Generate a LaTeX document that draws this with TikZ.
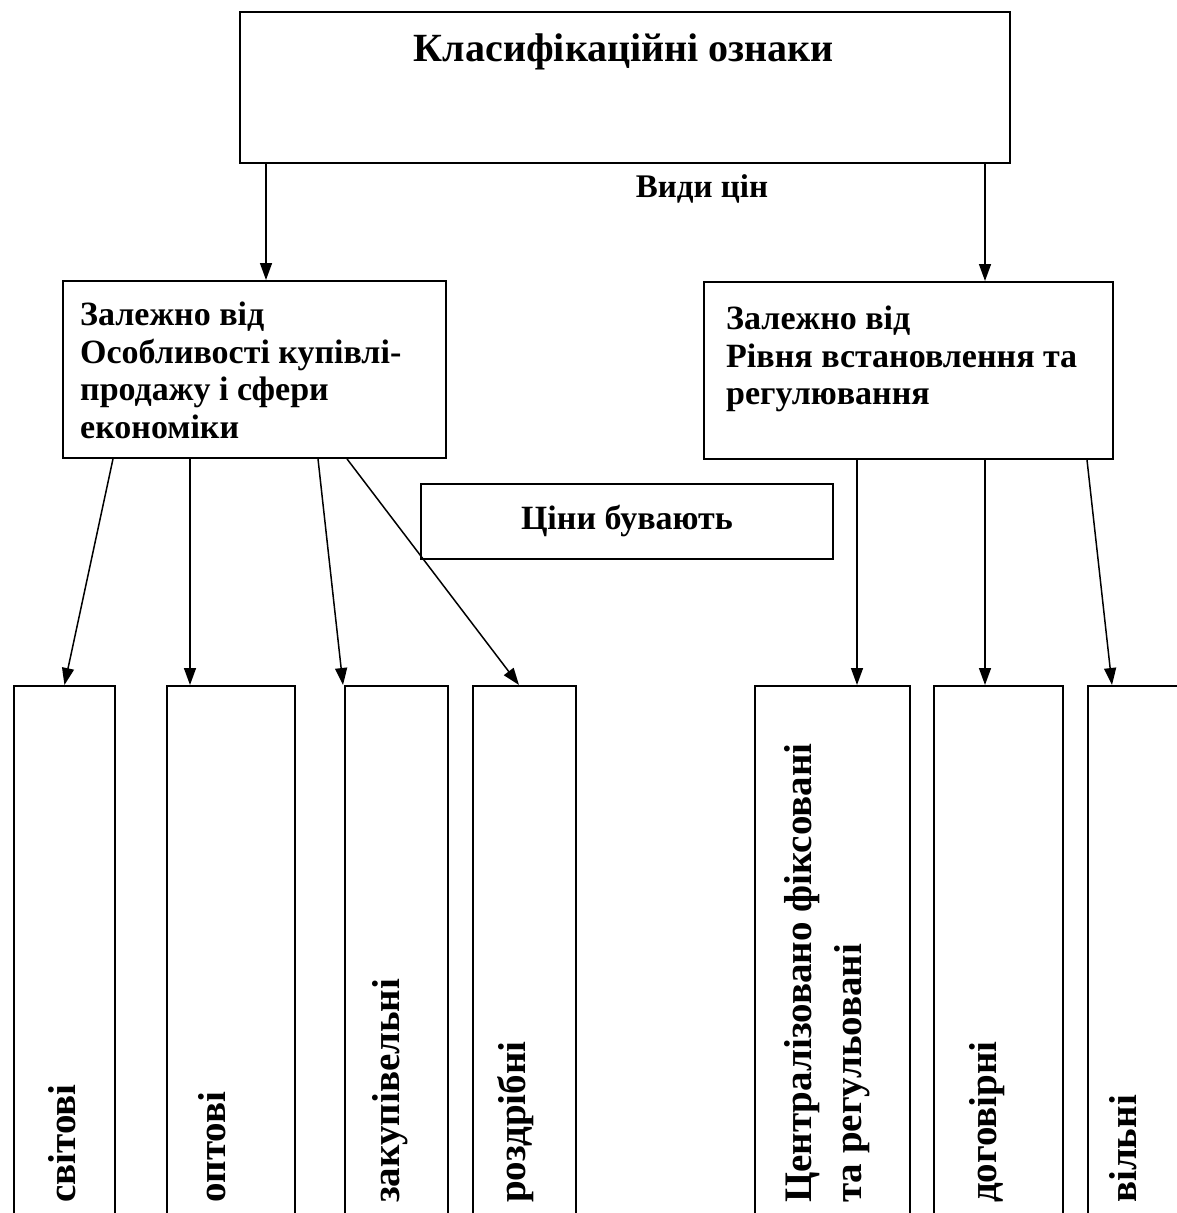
\documentclass[tikz,border=0pt]{standalone}
\usepackage{fontspec}
\setmainfont{Liberation Serif}
\usetikzlibrary{arrows.meta}

\tikzset{
  box/.style={draw, line width=1.9pt, rectangle, inner sep=0pt},
  lbl/.style={font=\bfseries\fontsize{34}{37.5}\selectfont, inner sep=0pt, align=left},
  vlbl/.style={font=\bfseries\fontsize{39}{50}\selectfont, inner sep=0pt, align=left, rotate=90, anchor=west},
  arr/.style={-{Triangle[length=17pt,width=12pt]}, line width=1.5pt},
}

\begin{document}
\begin{tikzpicture}[x=1pt, y=-1pt]
  \useasboundingbox (0,0) rectangle (1177,1213);
  \clip (0,0) rectangle (1177,1213);

  % top
  \node[box, anchor=north west, minimum width=770pt, minimum height=151pt] (ozn) at (239,11) {};
  \node[lbl, font=\bfseries\fontsize{40}{44}\selectfont, anchor=base] (oznt) at (624,61) {Класифікаційні ознаки};
  \node[lbl, font=\bfseries\fontsize{33}{37.5}\selectfont, anchor=base] (vydy) at (702,197) {Види цін};

  % middle
  \node[box, anchor=north west, minimum width=383pt, minimum height=177pt] (kup) at (62,280) {};
  \node[lbl, anchor=north west] (kupt) at (80,302) {Залежно від\\Особливості купівлі-\\продажу і сфери\\економіки};
  \node[box, anchor=north west, minimum width=409pt, minimum height=177pt] (rivn) at (703,281) {};
  \node[lbl, anchor=north west] (rivnt) at (726,306) {Залежно від\\Рівня встановлення та\\регулювання};
  \node[box, lbl, anchor=north west, minimum width=412pt, minimum height=75pt] (tsiny) at (420,483) {Ціни бувають};

  % bottom
  \node[box, anchor=north west, minimum width=101pt, minimum height=560pt] (sv) at (13,685) {};
  \node[box, anchor=north west, minimum width=128pt, minimum height=560pt] (opt) at (166,685) {};
  \node[box, anchor=north west, minimum width=103pt, minimum height=560pt] (zak) at (344,685) {};
  \node[box, anchor=north west, minimum width=103pt, minimum height=560pt] (rozd) at (472,685) {};
  \node[box, anchor=north west, minimum width=155pt, minimum height=560pt] (tsentr) at (754,685) {};
  \node[box, anchor=north west, minimum width=129pt, minimum height=560pt] (dog) at (933,685) {};
  \node[box, anchor=north west, minimum width=110pt, minimum height=560pt] (vil) at (1087,685) {};

  \node[vlbl] (svt) at (62,1203) {світові};
  \node[vlbl] (optt) at (212,1203) {оптові};
  \node[vlbl] (zakt) at (390,1203) {закупівельні};
  \node[vlbl] (rozdt) at (516,1203) {роздрібні};
  \node[vlbl] (tsentrt) at (827,1203) {Централізовано фіксовані\\та регульовані};
  \node[vlbl] (dogt) at (987,1203) {договірні};
  \node[vlbl] (vilt) at (1123,1203) {вільні};

  % arrows
  \draw[arr] (266,0 |- ozn.south) -- (266,0 |- kup.north);
  \draw[arr] (985,0 |- ozn.south) -- (985,0 |- rivn.north);
  \draw[arr] (113,0 |- kup.south) -- (sv.north);
  \draw[arr] (190,0 |- kup.south) -- (190,0 |- opt.north);
  \draw[arr] (318,0 |- kup.south) -- (343,0 |- zak.north);
  \draw[arr] (347,0 |- kup.south) -- (519,0 |- rozd.north);
  \draw[arr] (857,0 |- rivn.south) -- (857,0 |- tsentr.north);
  \draw[arr] (985,0 |- rivn.south) -- (985,0 |- dog.north);
  \draw[arr] (1087,0 |- rivn.south) -- (1112,0 |- vil.north);
\end{tikzpicture}
\end{document}
